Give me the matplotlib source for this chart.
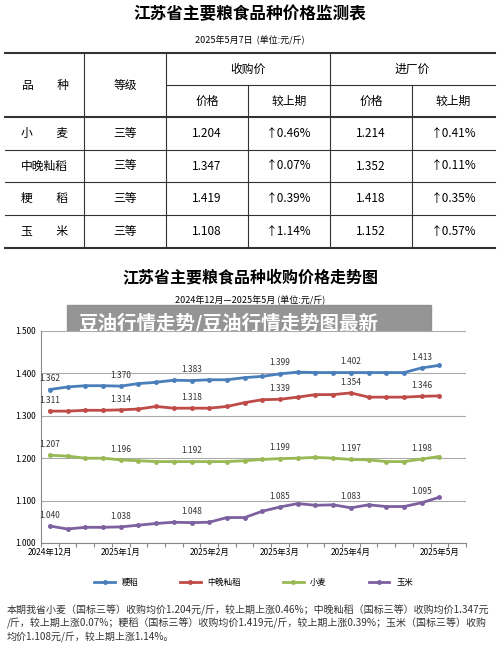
import matplotlib
matplotlib.use("Agg")
import matplotlib.pyplot as plt
from matplotlib.patches import Rectangle

plt.rcParams['font.family'] = ['Noto Sans CJK SC', 'DejaVu Sans']

# table data
table_rows = ["小　　麦", "中晚籼稻", "粳　　稻", "玉　　米"]
grades = ["三等", "三等", "三等", "三等"]
buy_price = ["1.204", "1.347", "1.419", "1.108"]
buy_change = ["↑0.46%", "↑0.07%", "↑0.39%", "↑1.14%"]
mill_price = ["1.214", "1.352", "1.418", "1.152"]
mill_change = ["↑0.41%", "↑0.11%", "↑0.35%", "↑0.57%"]

# chart data (23 observations)
japonica = [1.362, 1.368, 1.371, 1.371, 1.370, 1.376, 1.379, 1.384, 1.383, 1.385, 1.385, 1.390,
            1.393, 1.399, 1.403, 1.402, 1.402, 1.402, 1.402, 1.402, 1.402, 1.413, 1.419]
indica = [1.311, 1.311, 1.313, 1.313, 1.314, 1.316, 1.322, 1.318, 1.318, 1.318, 1.322, 1.331,
          1.338, 1.339, 1.344, 1.350, 1.350, 1.354, 1.344, 1.344, 1.344, 1.346, 1.347]
wheat = [1.207, 1.205, 1.200, 1.200, 1.196, 1.194, 1.192, 1.192, 1.192, 1.192, 1.192, 1.194,
         1.197, 1.199, 1.200, 1.202, 1.200, 1.197, 1.196, 1.192, 1.192, 1.198, 1.204]
corn = [1.040, 1.033, 1.037, 1.037, 1.038, 1.042, 1.046, 1.049, 1.048, 1.049, 1.060, 1.060,
        1.075, 1.085, 1.093, 1.089, 1.090, 1.083, 1.090, 1.086, 1.086, 1.095, 1.108]
label_idx = [0, 4, 8, 13, 17, 21]
month_labels = ["2024年12月", "2025年1月", "2025年2月", "2025年3月", "2025年4月", "2025年5月"]
month_pos = [0, 4, 9, 13, 17, 22]
series = [("粳稻", japonica, "#4a7ebb"), ("中晚籼稻", indica, "#be4b48"),
          ("小麦", wheat, "#98b954"), ("玉米", corn, "#7d60a0")]

fig = plt.figure(figsize=(5, 6.48), dpi=100)
bg = fig.add_axes([0, 0, 1, 1])
bg.set_xlim(0, 500)
bg.set_ylim(648, 0)
bg.axis("off")

# table
bg.text(250, 14, "江苏省主要粮食品种价格监测表", ha="center", va="center", fontsize=12, weight="bold")
bg.text(250, 40, "2025年5月7日  (单位:元/斤)", ha="center", va="center", fontsize=6.5)
cols = [5, 84, 166, 248, 330, 412, 495]
rows_y = [117, 150, 182, 215, 248]
bg.plot([5, 495], [53, 53], color="#333", lw=1.5)
bg.plot([166, 495], [85, 85], color="#333", lw=0.8)
for y in rows_y:
    bg.plot([5, 495], [y, y], color="#333", lw=1.5 if y in (117, 248) else 0.8)
for i, x in enumerate(cols[1:-1]):
    top = 85 if x in (248, 412) else 53
    bg.plot([x, x], [top, 248], color="#333", lw=0.8)
fs = 8.5
bg.text(45, 85, "品　　种", ha="center", va="center", fontsize=fs)
bg.text(125, 85, "等级", ha="center", va="center", fontsize=fs)
bg.text(248, 69, "收购价", ha="center", va="center", fontsize=fs)
bg.text(412, 69, "进厂价", ha="center", va="center", fontsize=fs)
for x, t in zip([207, 289, 371, 453], ["价格", "较上期", "价格", "较上期"]):
    bg.text(x, 101, t, ha="center", va="center", fontsize=fs)
for i in range(4):
    yc = (rows_y[i] + rows_y[i + 1]) / 2
    vals = [table_rows[i], grades[i], buy_price[i], buy_change[i], mill_price[i], mill_change[i]]
    for j, v in enumerate(vals):
        bg.text((cols[j] + cols[j + 1]) / 2, yc, v, ha="center", va="center", fontsize=fs)

# chart titles
bg.text(250, 277, "江苏省主要粮食品种收购价格走势图", ha="center", va="center", fontsize=11.5, weight="bold")
bg.text(250, 300, "2024年12月—2025年5月 (单位:元/斤)", ha="center", va="center", fontsize=6.5)

ax = fig.add_axes([41 / 500, 105 / 648, 425 / 500, 212 / 648])
x = list(range(len(japonica)))
for name, vals, c in series:
    ax.plot(x, vals, color=c, lw=2, marker="o", ms=2.5, label=name)
    for i in label_idx:
        ax.annotate(f"{vals[i]:.3f}", (i, vals[i]), xytext=(0, 6), textcoords="offset points",
                    ha="center", fontsize=6, color="#333")
ax.set_xlim(-0.5, 23.5)
ax.set_ylim(1.0, 1.5)
ax.set_yticks([1.0, 1.1, 1.2, 1.3, 1.4, 1.5])
ax.set_yticklabels([f"{v:.3f}" for v in [1.0, 1.1, 1.2, 1.3, 1.4, 1.5]], fontsize=6)
ax.yaxis.grid(True, color="#aaa", lw=0.8)
ax.set_xticks([k - 0.5 for k in range(25)])
ax.set_xticklabels([])
ax.tick_params(axis="x", length=3, color="#888")
ax.tick_params(axis="y", length=0)
for s in ["top", "right"]:
    ax.spines[s].set_visible(False)
ax.spines["left"].set_color("#888")
ax.spines["bottom"].set_color("#888")
for p, lab in zip(month_pos, month_labels):
    ax.text(p, 0.988, lab, ha="center", va="top", fontsize=6, transform=ax.transData)
ax.legend(loc="upper center", bbox_to_anchor=(0.5, -0.13), ncol=4, frameon=False,
          fontsize=6, handlelength=2.5, columnspacing=5)

# caption
caption = ["本期我省小麦（国标三等）收购均价1.204元/斤，较上期上涨0.46%；中晚籼稻（国标三等）收购均价1.347元",
           "/斤，较上期上涨0.07%；粳稻（国标三等）收购均价1.419元/斤，较上期上涨0.39%；玉米（国标三等）收购",
           "均价1.108元/斤，较上期上涨1.14%。"]
for k, line in enumerate(caption):
    bg.text(7, 610 + k * 13.5, line, ha="left", va="center", fontsize=7.2, color="#333")

# overlay banner
bg.add_patch(Rectangle((67, 305), 364, 37, color="#8c8c8c", alpha=0.92))
bg.text(78, 323, "豆油行情走势/豆油行情走势图最新", ha="left", va="center", fontsize=14,
        weight="bold", color="white")

fig.savefig("out.png", dpi=100)
